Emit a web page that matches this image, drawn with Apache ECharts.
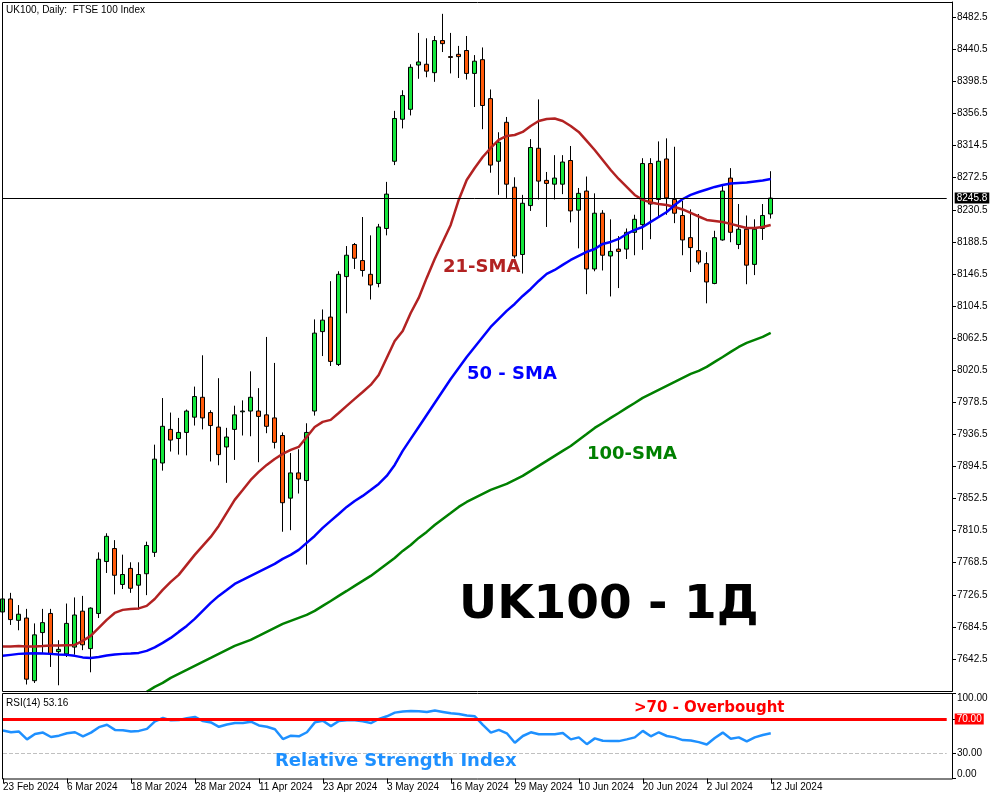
<!DOCTYPE html>
<html>
<head>
<meta charset="utf-8">
<script src="https://cdn.jsdelivr.net/npm/echarts@6/dist/echarts.min.js"></script>
<style>
html,body{margin:0;padding:0;background:#fff;}
#c{width:1000px;height:800px;}
</style>
</head>
<body>
<div id="c"></div>
<script>
// Date tick labels (one every 8 trading days)
const tickLabels = ['23 Feb 2024','6 Mar 2024','18 Mar 2024','28 Mar 2024','11 Apr 2024','23 Apr 2024','3 May 2024','16 May 2024','29 May 2024','10 Jun 2024','20 Jun 2024','2 Jul 2024','12 Jul 2024'];
// Price axis tick labels
const priceTicks = [7642.5,7684.5,7726.5,7768.5,7810.5,7852.5,7894.5,7936.5,7978.5,8020.5,8062.5,8104.5,8146.5,8188.5,8230.5,8272.5,8314.5,8356.5,8398.5,8440.5,8482.5];
const rsiTicks = [0, 30, 70, 100];
// Daily candles: [open, close, low, high]
const ohlc = [
[7704,7721,7701,7726],[7721,7694,7687,7729],[7693,7701,7680,7713],[7696,7616,7609,7708],[7614,7674,7611,7689],
[7677,7690,7650,7708],[7702,7649,7632,7708],[7652,7655,7608,7667],[7649,7689,7645,7715],[7658,7700,7648,7723],
[7705,7661,7654,7725],[7656,7709,7625,7710],[7702,7773,7696,7782],[7770,7803,7755,7807],[7787,7752,7727,7798],
[7740,7753,7734,7779],[7761,7735,7729,7769],[7739,7753,7707,7769],[7754,7791,7726,7796],[7782,7904,7776,7923],
[7899,7947,7889,7984],[7943,7929,7914,7965],[7931,7939,7910,7958],[7939,7967,7909,7969],[7959,7986,7948,7999],
[7985,7958,7943,8040],[7965,7948,7901,7968],[7946,7910,7896,8010],[7920,7933,7873,7945],[7943,7962,7903,7974],
[7966,7967,7935,7981],[7967,7985,7934,8019],[7967,7960,7900,7997],[7962,7947,7938,8064],[7958,7926,7918,8030],
[7935,7847,7809,7939],[7853,7886,7811,7912],[7886,7878,7859,7917],[7876,7939,7766,7951],[7967,8069,7961,8087],
[8071,8086,8039,8100],[8090,8032,8026,8137],[8028,8146,8026,8150],[8143,8171,8095,8183],[8185,8167,8153,8187],
[8164,8151,8143,8221],[8146,8132,8113,8197],[8134,8208,8129,8212],[8206,8251,8197,8267],[8294,8350,8289,8360],
[8349,8380,8337,8387],[8362,8417,8354,8421],[8420,8424,8402,8462],[8421,8412,8404,8455],[8410,8452,8398,8458],
[8452,8448,8437,8487],[8431,8430,8409,8462],[8434,8431,8403,8445],[8439,8409,8401,8458],[8409,8425,8365,8433],
[8427,8367,8336,8443],[8376,8289,8279,8388],[8294,8319,8250,8332],[8345,8264,8246,8352],[8260,8170,8167,8273],
[8172,8239,8147,8250],[8236,8312,8229,8323],[8311,8268,8244,8375],[8269,8265,8208,8280],[8264,8272,8244,8302],
[8264,8293,8251,8302],[8295,8229,8214,8314],[8230,8252,8180,8259],[8255,8153,8120,8274],[8153,8226,8150,8252],
[8226,8171,8151,8230],[8170,8176,8117,8218],[8179,8176,8128,8196],[8179,8201,8166,8206],[8201,8218,8171,8224],
[8211,8291,8178,8298],[8291,8238,8192,8298],[8244,8294,8221,8320],[8297,8246,8224,8324],[8244,8226,8213,8313],
[8223,8191,8171,8242],[8194,8181,8149,8231],[8177,8162,8159,8225],[8160,8136,8108,8175],[8134,8194,8133,8203],
[8191,8255,8190,8263],[8272,8201,8188,8285],[8185,8205,8179,8238],[8205,8158,8133,8223],[8159,8205,8145,8218],
[8206,8223,8191,8238],[8225,8245.8,8219,8281]
];
const sma21 = [
7658.6,7658.9,7659.5,7658.9,7658.9,7659.5,7660.2,7660.2,7660.5,7660.8,
7666.1,7672.6,7683.1,7693.6,7702.7,7706.7,7708.0,7708.6,7711.9,7721.0,
7732.8,7743.3,7752.5,7765.6,7778.7,7790.5,7802.2,7816.6,7833.6,7850.7,
7863.7,7876.8,7887.3,7896.5,7904.3,7910.9,7916.1,7920.0,7933.1,7946.2,
7952.8,7955.4,7964.5,7973.7,7982.9,7992.0,8001.2,8014.3,8036.5,8058.8,
8071.9,8095.4,8115.1,8141.3,8166.1,8188.4,8210.6,8243.4,8269.5,8285.2,
8299.6,8311.4,8321.9,8327.1,8328.4,8332.4,8340.2,8346.8,8349.4,8350.0,
8346.8,8340.2,8332.4,8320.6,8308.8,8295.7,8282.6,8270.8,8260.4,8249.9,
8243.4,8240.1,8238.1,8236.8,8234.2,8230.9,8226.3,8221.7,8217.2,8215.9,
8214.6,8212.0,8209.3,8206.7,8206.7,8208.0,8210.6
];
const sma50 = [
7646.5,7647.8,7649.1,7649.7,7650.0,7649.7,7649.1,7648.4,7647.8,7646.5,
7644.5,7643.8,7645.1,7647.1,7648.4,7649.1,7649.7,7650.4,7653.0,7657.6,
7663.5,7670.0,7677.9,7685.7,7694.9,7705.4,7715.8,7725.0,7732.8,7740.7,
7745.9,7751.2,7756.4,7761.6,7766.9,7773.4,7778.7,7785.2,7794.4,7803.5,
7814.0,7823.2,7832.3,7841.5,7849.3,7855.9,7863.7,7871.6,7882.1,7896.5,
7914.8,7930.5,7946.2,7961.9,7977.6,7993.3,8009.0,8023.4,8037.8,8050.9,
8064.0,8077.1,8087.6,8098.1,8107.2,8117.7,8126.8,8137.3,8146.5,8151.7,
8158.3,8164.8,8170.1,8175.3,8179.2,8185.8,8188.4,8192.3,8198.8,8204.1,
8208.0,8214.6,8221.1,8227.6,8236.8,8244.6,8249.9,8253.8,8257.1,8260.4,
8263.0,8264.9,8265.6,8266.3,8267.6,8268.9,8270.8
];
const sma100 = [
null,null,null,null,null,null,null,null,null,null,
null,null,null,null,null,null,null,null,7599.4,7605.9,
7611.1,7617.7,7622.9,7628.1,7633.4,7638.6,7643.8,7649.1,7654.3,7659.5,
7663.5,7667.4,7672.6,7677.9,7683.1,7688.3,7692.3,7696.2,7700.1,7705.4,
7711.9,7718.4,7725.0,7731.5,7738.1,7744.6,7751.2,7759.0,7766.9,7774.7,
7783.9,7791.7,7800.9,7808.8,7817.9,7825.8,7833.6,7841.5,7848.0,7853.3,
7858.5,7863.7,7867.7,7871.6,7876.8,7882.1,7888.6,7895.2,7901.7,7908.3,
7914.8,7921.3,7929.2,7937.0,7944.9,7951.4,7958.0,7964.5,7971.1,7977.6,
7984.2,7989.4,7994.7,7999.9,8005.1,8010.4,8015.6,8019.5,8024.8,8031.3,
8037.8,8044.4,8050.9,8056.2,8060.1,8064.0,8069.3
];
const rsi = [
56.4,54.4,55.2,46.0,52.4,54.0,48.8,50.4,53.2,54.4,
49.6,54.0,60.4,63.2,57.2,56.8,55.2,56.0,58.4,67.2,
71.2,68.4,68.8,70.8,72.4,67.6,66.0,60.8,63.6,65.2,
65.2,66.8,62.4,60.8,58.0,46.4,50.4,49.6,54.4,66.0,
68.0,61.6,67.6,68.4,68.4,67.2,65.2,70.0,73.2,77.5,
78.7,79.5,79.1,78.3,79.9,78.3,76.7,75.9,74.0,73.2,
63.2,54.0,57.2,53.2,42.0,50.0,54.4,52.0,52.0,52.0,
53.6,46.0,48.4,40.4,47.2,44.4,44.0,44.0,46.0,48.4,
56.0,49.6,54.4,50.0,48.4,45.2,44.8,42.8,40.0,47.6,
54.0,46.8,48.4,43.6,48.4,51.2,53.16
];

const SLOTS = 119;
const categories = Array.from({length: SLOTS}, (_, i) => i);
const lastClose = ohlc[ohlc.length - 1][1];
const FONT = 'Liberation Sans';
const showTick = (idx) => idx % 8 === 0 && idx < ohlc.length;

const chart = echarts.init(document.getElementById('c'), null, {renderer: 'canvas'});
chart.setOption({
  animation: false,
  backgroundColor: '#fff',
  textStyle: {fontFamily: FONT},
  grid: [
    {left: 2.7, top: 2, width: 944, height: 689, containLabel: false},
    {left: 2.7, top: 693.5, width: 944, height: 85, containLabel: false}
  ],
  xAxis: [
    {type: 'category', gridIndex: 0, data: categories, boundaryGap: false,
     axisLine: {show: false}, axisTick: {show: false}, axisLabel: {show: false}, splitLine: {show: false}},
    {type: 'category', gridIndex: 1, data: categories, boundaryGap: false,
     axisLine: {show: false},
     axisTick: {show: true, interval: showTick, length: 5, lineStyle: {color: '#000', width: 1}},
     axisLabel: {show: true, interval: showTick, align: 'left', margin: 4, color: '#000', fontSize: 10, fontFamily: FONT,
       formatter: (v, idx) => tickLabels[Math.round(idx / 8)] || ''},
     splitLine: {show: false}}
  ],
  yAxis: [
    {type: 'value', gridIndex: 0, position: 'right', offset: 5.3, min: 7600.5, max: 8502.5, scale: true,
     axisLine: {show: true, lineStyle: {color: '#000', width: 1}},
     axisTick: {show: true, length: 4, customValues: priceTicks, lineStyle: {color: '#000'}},
     axisLabel: {show: true, margin: 5, customValues: priceTicks, color: '#000', fontSize: 10, fontFamily: FONT,
       formatter: v => v.toFixed(1)},
     splitLine: {show: false}},
    {type: 'value', gridIndex: 1, position: 'right', offset: 5.3, min: 0, max: 100,
     axisLine: {show: true, lineStyle: {color: '#000', width: 1}},
     axisTick: {show: true, length: 4, customValues: rsiTicks, lineStyle: {color: '#000'}},
     axisLabel: {show: true, margin: 5, customValues: [0, 30, 100], color: '#000', fontSize: 10, fontFamily: FONT,
       formatter: v => v === 100 ? '{t|100.00}' : (v === 0 ? '{b|0.00}' : v.toFixed(2)),
       rich: {t: {padding: [9, 0, 0, 0], fontSize: 10, fontFamily: FONT, color: '#000'},
              b: {padding: [0, 0, 9, 0], fontSize: 10, fontFamily: FONT, color: '#000'}}},
     splitLine: {show: false}}
  ],
  series: [
    {type: 'candlestick', xAxisIndex: 0, yAxisIndex: 0, data: ohlc, barWidth: 5,
     itemStyle: {color: '#14e63c', color0: '#ff5a0a', borderColor: '#000', borderColor0: '#000', borderWidth: 1},
     markLine: {silent: true, symbol: ['none', 'none'], animation: false,
       lineStyle: {color: '#000', width: 1, type: 'solid'},
       label: {show: true, position: 'end', distance: 8, formatter: () => lastClose.toFixed(1),
         backgroundColor: '#000', color: '#fff', padding: [1, 2, 0, 2], fontSize: 10, fontFamily: FONT},
       data: [{yAxis: lastClose}]}},
    {type: 'line', name: '21-SMA', xAxisIndex: 0, yAxisIndex: 0, data: sma21, showSymbol: false, symbol: 'none',
     lineStyle: {color: '#b22222', width: 2.5}},
    {type: 'line', name: '50-SMA', xAxisIndex: 0, yAxisIndex: 0, data: sma50, showSymbol: false, symbol: 'none',
     lineStyle: {color: '#0000ff', width: 2.5}},
    {type: 'line', name: '100-SMA', xAxisIndex: 0, yAxisIndex: 0, data: sma100, showSymbol: false, symbol: 'none',
     lineStyle: {color: '#008000', width: 2.5}},
    {type: 'line', name: 'RSI', xAxisIndex: 1, yAxisIndex: 1, data: rsi, showSymbol: false, symbol: 'none',
     lineStyle: {color: '#1e90ff', width: 2.5}, z: 3,
     markLine: {silent: true, symbol: ['none', 'none'], animation: false,
       data: [
         {yAxis: 70, lineStyle: {color: '#ff0000', width: 3, type: 'solid'},
          label: {show: true, position: 'end', distance: 8, formatter: '70.00', backgroundColor: '#ff0000', color: '#fff',
            padding: [1, 2, 0, 2], fontSize: 10, fontFamily: FONT}},
         {yAxis: 30, lineStyle: {color: '#c0c0c0', width: 1, type: 'dashed'}, label: {show: false}}
       ]}}
  ],
  graphic: [
    {type: 'rect', shape: {x: 2.5, y: 2.5, width: 950, height: 689}, style: {fill: 'none', stroke: '#000', lineWidth: 1}, z: 100, silent: true},
    {type: 'rect', shape: {x: 2.5, y: 693.5, width: 950, height: 85.5}, style: {fill: 'none', stroke: '#000', lineWidth: 1}, z: 100, silent: true},
    {type: 'text', x: 6, y: 10, style: {text: 'UK100, Daily:  FTSE 100 Index', font: '10px "Liberation Sans"', fill: '#000', align: 'left', verticalAlign: 'middle'}, z: 101},
    {type: 'text', x: 6, y: 703, style: {text: 'RSI(14) 53.16', font: '10px "Liberation Sans"', fill: '#000', align: 'left', verticalAlign: 'middle'}, z: 101},
    {type: 'text', x: 443, y: 267, style: {text: '21-SMA', font: 'bold 18px "DejaVu Sans"', fill: '#b22222', align: 'left', verticalAlign: 'middle'}, z: 101},
    {type: 'text', x: 467, y: 374.5, style: {text: '50 - SMA', font: 'bold 18px "DejaVu Sans"', fill: '#0000ff', align: 'left', verticalAlign: 'middle'}, z: 101},
    {type: 'text', x: 587, y: 454, style: {text: '100-SMA', font: 'bold 18px "DejaVu Sans"', fill: '#008000', align: 'left', verticalAlign: 'middle'}, z: 101},
    {type: 'text', x: 459, y: 606, style: {text: 'UK100 - 1Д', font: 'bold 47px "DejaVu Sans"', fill: '#000', align: 'left', verticalAlign: 'middle'}, z: 101},
    {type: 'text', x: 634, y: 708, style: {text: '>70 - Overbought', font: 'bold 15px "DejaVu Sans"', fill: '#ff0000', align: 'left', verticalAlign: 'middle'}, z: 101},
    {type: 'text', x: 275, y: 761, style: {text: 'Relative Strength Index', font: 'bold 18px "DejaVu Sans"', fill: '#1e90ff', align: 'left', verticalAlign: 'middle'}, z: 101}
  ]
});
</script>
</body>
</html>
